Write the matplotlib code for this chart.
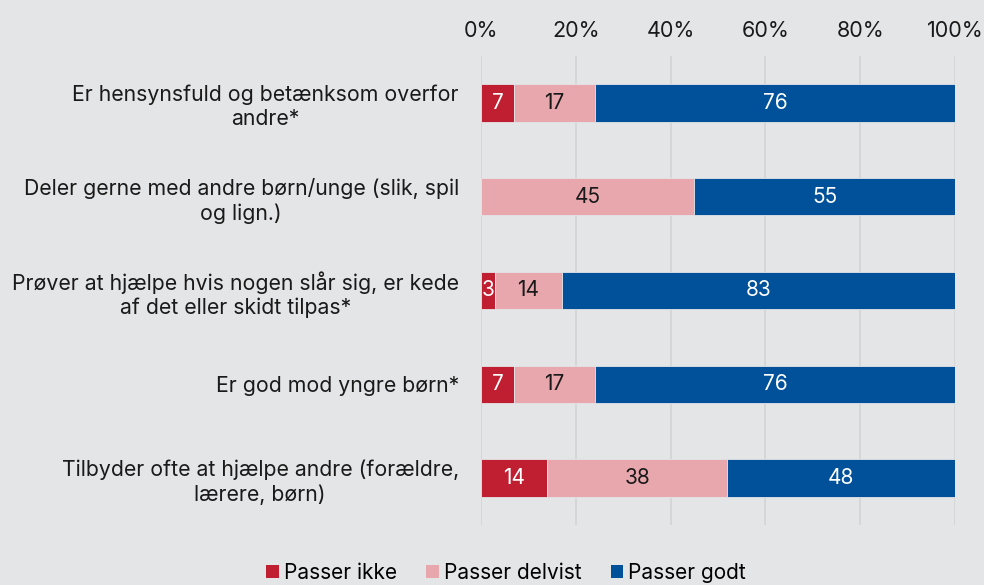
import matplotlib
matplotlib.use("Agg")
import matplotlib.pyplot as plt
import numpy as np
from matplotlib.patches import Patch

categories = [
    "Er hensynsfuld og betænksom overfor\nandre*",
    "Deler gerne med andre børn/unge (slik, spil\nog lign.)",
    "Prøver at hjælpe hvis nogen slår sig, er kede\naf det eller skidt tilpas*",
    "Er god mod yngre børn*",
    "Tilbyder ofte at hjælpe andre (forældre,\nlærere, børn)",
]
passer_ikke = [7, 0, 3, 7, 14]
passer_delvist = [17, 45, 14, 17, 38]
passer_godt = [76, 55, 83, 76, 48]
series_names = ["Passer ikke", "Passer delvist", "Passer godt"]
colors = ["#C01F32", "#E8A7AC", "#00519A"]
text_colors = ["white", "#1a1a1a", "white"]
xticks = [0, 20, 40, 60, 80, 100]

plt.rcParams["font.family"] = ["Inter", "DejaVu Sans"]
bg = "#E4E5E7"
fig = plt.figure(figsize=(9.84, 5.85), dpi=100, facecolor=bg)
ax = fig.add_axes([481/984, 1-525/585, (955-481)/984, (525-56)/585])
ax.set_facecolor(bg)

y = np.arange(len(categories))
left = np.zeros(len(categories))
for vals, c, tc in zip([passer_ikke, passer_delvist, passer_godt], colors, text_colors):
    vals = np.array(vals, dtype=float)
    ax.barh(y, vals, left=left, height=0.4, color=c, edgecolor="#E4E5E7", linewidth=0.6, zorder=3)
    for yi, l, v in zip(y, left, vals):
        if v > 0:
            ax.text(l + v/2, yi, f"{int(v)}", ha="center", va="center", color=tc, fontsize=15, zorder=4)
    left += vals

ax.set_xlim(0, 100)
ax.set_ylim(len(categories)-0.5, -0.5)
ax.set_xticks(xticks)
ax.set_xticklabels([f"{t}%" for t in xticks], fontsize=15.5, color="#1a1a1a")
ax.xaxis.tick_top()
ax.tick_params(axis="x", length=0, pad=11)
ax.set_yticks(y)
ax.set_yticklabels(categories, fontsize=15.3, color="#1a1a1a", ha="right", multialignment="center",
                   linespacing=1.25)
ax.tick_params(axis="y", length=0, pad=16)
ax.grid(axis="x", color="#D3D4D6", linewidth=1.2, zorder=0)
for s in ax.spines.values():
    s.set_visible(False)

handles = [Patch(facecolor=c, label=n) for c, n in zip(colors, series_names)]
fig.legend(handles=handles, loc="center", bbox_to_anchor=(506/984, 1-573/585), ncol=3, frameon=False,
           fontsize=15, handlelength=0.6, handleheight=0.6, handletextpad=0.25, columnspacing=1.4,
           borderpad=0, borderaxespad=0)

fig.savefig("out.png", dpi=100, facecolor=bg)
